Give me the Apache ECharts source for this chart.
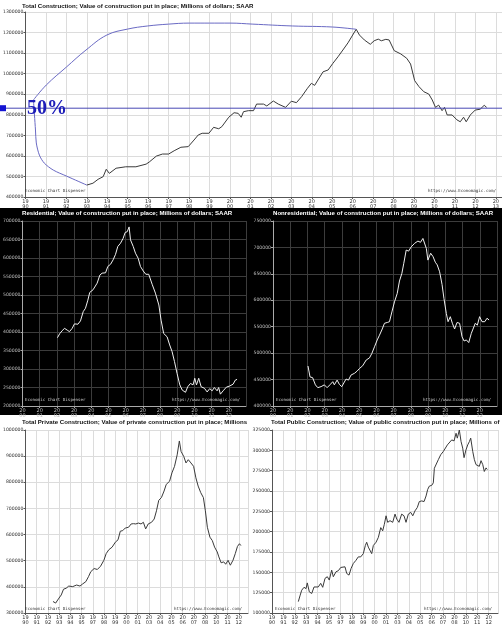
<!DOCTYPE html>
<html>
<head>
<meta charset="utf-8">
<script src="https://cdn.jsdelivr.net/npm/echarts@6/dist/echarts.min.js"></script>
<style>
html,body{margin:0;padding:0;background:#fff;}
#c{width:502px;height:625px;}
</style>
</head>
<body>
<div id="c"></div>
<script>
// ---------- DATA ----------
const titles = [
  "Total Construction; Value of construction put in place; Millions of dollars; SAAR",
  "Residential; Value of construction put in place; Millions of dollars; SAAR",
  "Nonresidential; Value of construction put in place; Millions of dollars; SAAR",
  "Total Private Construction; Value of private construction put in place; Millions",
  "Total Public Construction; Value of public construction put in place; Millions of"
];
const footerLeft = "Economic Chart Dispenser";
const footerRight = "https://www.Economagic.com/";
const overlayLabel = "50%";
const overlayLineValue = 832000;

const totalYears = [1993.0,1993.3,1993.55,1993.8,1993.95,1994.1,1994.43,1994.9,1995.4,1995.9,1996.05,1996.4,1996.7,1997.0,1997.27,1997.6,1997.96,1998.24,1998.45,1998.64,1998.97,1999.2,1999.45,1999.6,1999.94,2000.2,2000.4,2000.55,2000.66,2000.9,2001.15,2001.3,2001.64,2001.8,2002.12,2002.36,2002.72,2003.0,2003.25,2003.5,2003.79,2003.98,2004.14,2004.3,2004.55,2004.8,2005.03,2005.28,2005.52,2005.77,2006.0,2006.17,2006.33,2006.57,2006.86,2007.05,2007.25,2007.4,2007.62,2007.78,2008.03,2008.35,2008.64,2008.83,2009.03,2009.24,2009.48,2009.72,2009.89,2010.05,2010.2,2010.37,2010.49,2010.62,2010.86,2011.1,2011.26,2011.42,2011.55,2011.75,2011.99,2012.23,2012.43,2012.55];
const totalValues = [458000,467000,486000,499000,535000,515000,540000,547000,547000,560000,570000,599000,609000,609000,625000,642000,645000,677000,702000,710000,710000,739000,732000,742000,788000,810000,807000,788000,815000,820000,820000,852000,852000,843000,867000,852000,836000,866000,859000,888000,929000,953000,943000,969000,1009000,1018000,1050000,1082000,1115000,1150000,1188000,1216000,1188000,1164000,1143000,1160000,1168000,1160000,1167000,1164000,1112000,1096000,1075000,1047000,966000,937000,912000,901000,872000,836000,847000,820000,836000,799000,799000,775000,766000,788000,766000,799000,823000,827000,846000,836000];

const upperCurveYears = [1990.39,1991.02,1992.0,1992.96,1993.98,1995.0,1995.97,1996.99,1998.0,2000.0,2001.12,2003.06,2005.0,2006.17];
const upperCurveValues = [872000,945000,1032000,1115000,1188000,1217000,1232000,1241000,1246000,1246000,1241000,1232000,1227000,1216000];
const lowerCurveYears = [1990.39,1990.44,1990.49,1990.53,1990.68,1990.92,1991.36,1992.0,1993.0];
const lowerCurveValues = [872000,799000,726000,663000,604000,565000,531000,502000,458000];

const resYears = [2002.03,2002.17,2002.3,2002.44,2002.6,2002.73,2002.89,2003.02,2003.22,2003.37,2003.53,2003.66,2003.8,2003.91,2004.1,2004.34,2004.5,2004.63,2004.83,2004.96,2005.12,2005.27,2005.41,2005.54,2005.7,2005.85,2005.97,2006.09,2006.2,2006.28,2006.44,2006.57,2006.73,2006.86,2007.02,2007.17,2007.34,2007.54,2007.73,2007.93,2008.06,2008.21,2008.41,2008.56,2008.7,2008.84,2008.99,2009.15,2009.29,2009.48,2009.61,2009.77,2009.92,2010.02,2010.12,2010.25,2010.39,2010.58,2010.74,2010.89,2011.03,2011.16,2011.32,2011.41,2011.51,2011.67,2011.86,2012.05,2012.25,2012.38,2012.48];
const resValues = [384600,396000,403000,410000,405000,401000,410000,422000,421000,430000,455000,464000,486000,507000,514000,532000,554000,559000,560000,577000,583000,595000,610000,631000,640000,653000,669000,671000,684000,649000,631000,613000,599000,577000,565000,556000,556000,529000,505000,473000,432000,396000,387000,365000,347000,320000,288000,257000,243000,237000,252000,261000,257000,275000,257000,275000,252000,248000,238000,247000,241000,250000,241000,250000,232000,241000,251000,254000,259000,270000,272000];

const nonresYears = [2002.03,2002.15,2002.3,2002.46,2002.6,2002.79,2002.98,2003.14,2003.33,2003.47,2003.56,2003.72,2003.85,2003.99,2004.1,2004.24,2004.38,2004.53,2004.73,2004.88,2005.02,2005.2,2005.41,2005.6,2005.74,2005.89,2006.05,2006.18,2006.34,2006.47,2006.63,2006.76,2006.9,2007.05,2007.21,2007.34,2007.48,2007.59,2007.73,2007.87,2008.02,2008.22,2008.41,2008.56,2008.7,2008.8,2008.9,2008.99,2009.15,2009.29,2009.42,2009.53,2009.67,2009.81,2009.92,2010.06,2010.16,2010.29,2010.41,2010.54,2010.68,2010.83,2010.97,2011.09,2011.22,2011.36,2011.51,2011.61,2011.74,2011.86,2011.99,2012.13,2012.29,2012.42,2012.54];
const nonresValues = [475700,455000,453600,440000,434700,436600,440000,434700,441000,446000,440000,449000,441000,436600,433500,451000,449000,458600,461900,466000,471000,476000,487000,491000,499700,512000,525000,534000,545700,556500,558000,559500,578000,597000,613000,636500,651000,670000,695000,693000,701000,707800,712000,709700,717000,714000,698000,676000,689000,682500,672000,667000,654000,630000,603700,575000,559500,569000,556500,545700,558000,556500,531000,523000,525000,520000,537500,534000,556500,553000,569000,559500,559500,566000,562700];

const privYears = [1992.9,1993.18,1993.53,1993.77,1994.01,1994.28,1994.56,1994.98,1995.39,1995.74,1996.02,1996.36,1996.64,1996.88,1997.23,1997.57,1997.91,1998.26,1998.5,1998.78,1999.13,1999.47,1999.75,1999.99,2000.24,2000.51,2000.86,2001.13,2001.38,2001.62,2001.9,2002.17,2002.42,2002.66,2002.93,2003.28,2003.56,2003.8,2004.04,2004.32,2004.6,2004.83,2005.18,2005.43,2005.7,2005.98,2006.21,2006.39,2006.67,2006.91,2007.15,2007.43,2007.71,2007.95,2008.19,2008.46,2008.74,2008.95,2009.16,2009.43,2009.68,2009.92,2010.2,2010.37,2010.61,2010.88,2011.09,2011.34,2011.58,2011.86,2012.1,2012.33,2012.54,2012.69];
const privValues = [344000,338000,357000,369000,391000,394600,403000,401000,407000,403000,411000,420000,439000,458000,470000,466500,479000,501700,527000,542000,552000,571000,580000,613000,615000,625000,628000,640600,641700,640600,644000,640600,647000,621600,640600,647000,659500,691000,731000,741500,766600,792000,804000,836000,861000,905000,958000,918000,899000,874000,886500,874000,861000,817000,785500,760500,741500,691000,628000,590000,577000,552000,533500,514600,492000,495600,486500,501700,482800,501700,527000,554700,565000,558000];

const pubYears = [1992.73,1992.9,1993.08,1993.32,1993.53,1993.66,1993.87,1994.12,1994.36,1994.56,1994.8,1995.05,1995.26,1995.5,1995.74,1995.94,1996.19,1996.36,1996.64,1996.88,1997.13,1997.33,1997.57,1997.75,1997.99,1998.2,1998.43,1998.71,1998.95,1999.2,1999.47,1999.68,1999.82,1999.99,2000.17,2000.34,2000.51,2000.79,2001.03,2001.28,2001.48,2001.65,2001.83,2002.0,2002.24,2002.52,2002.76,2002.94,2003.17,2003.45,2003.69,2003.9,2004.14,2004.39,2004.6,2004.83,2005.07,2005.28,2005.53,2005.77,2005.98,2006.15,2006.32,2006.57,2006.73,2006.84,2007.01,2007.25,2007.5,2007.77,2007.95,2008.19,2008.39,2008.64,2008.88,2009.09,2009.22,2009.43,2009.61,2009.78,2009.92,2010.12,2010.3,2010.47,2010.61,2010.82,2010.99,2011.16,2011.34,2011.5,2011.68,2011.86,2012.02,2012.2,2012.33];
const pubValues = [114000,121000,128000,131600,130000,137000,126000,124000,132000,134000,132000,136500,131600,142600,144600,140500,152700,144600,150700,152000,156000,154700,156800,148600,146600,154700,160800,164800,169000,169000,173000,183000,187000,181000,179000,173000,183000,187000,193000,205000,201000,209000,219500,211500,213500,211500,221600,215500,211500,221600,219500,211500,221600,223700,219500,225600,229700,237000,237800,237000,243900,252000,256000,257000,260000,278000,278000,288500,294600,298600,296600,306700,304600,312800,311600,321000,315000,325000,310700,302700,291000,300600,306700,310700,315000,298600,288500,282400,284400,280300,287300,282400,274000,278400,276400];

// ---------- CHART ----------
const chart = echarts.init(document.getElementById('c'), null, {renderer:'canvas'});
const pairs = (xs, ys, off) => xs.map((x, i) => [x - (off || 0), ys[i]]);
const yearLabel = base => v => { const s = String(Math.floor(base + v + 1e-6)); return s.slice(0,2) + '\n' + s.slice(2); };

const LIGHT = {grid:'#dcdcdc', axis:'#555', label:'#333', line:'#3a3a3a'};
const DARK = {grid:'#3c3c3c', axis:'#aaa', label:'#bbb', line:'#f0f0f0'};

const grids = [
  {left:22, top:12, width:480, height:185},
  {left:22, top:221, width:224, height:185},
  {left:273, top:221, width:224, height:185},
  {left:22, top:430, width:226, height:185},
  {left:272, top:430, width:226, height:185}
];
const themes = [LIGHT, DARK, DARK, LIGHT, LIGHT];
const xCfg = [
  {min:1990, max:2013.3, interval:1, base:0},
  {min:2000, max:2013, interval:1, base:0},
  {min:2000, max:2013, interval:1, base:0},
  {min:0, max:23.44, interval:1.1826, base:1990},
  {min:0, max:23.44, interval:1.1826, base:1990}
];
const yCfg = [
  {min:400000, max:1300000, interval:100000},
  {min:200000, max:700000, interval:50000},
  {min:400000, max:750000, interval:50000},
  {min:300000, max:1000000, interval:100000},
  {min:100000, max:325000, interval:25000}
];

const xAxis = xCfg.map((c, i) => ({
  type:'value', gridIndex:i, min:c.min, max:c.max, interval:c.interval,
  axisLine:{show:true, onZero:false, lineStyle:{color:themes[i].axis, width:1}},
  axisTick:{show:true, length:2, lineStyle:{color:themes[i].axis}},
  splitLine:{show:true, lineStyle:{color:themes[i].grid, width:1}},
  axisLabel:{formatter:yearLabel(c.base), fontSize:5, lineHeight:5, margin:2, color:themes[i].label,
             fontFamily:'DejaVu Sans', showMaxLabel:false, hideOverlap:false}
}));
const yAxis = yCfg.map((c, i) => ({
  type:'value', gridIndex:i, min:c.min, max:c.max, interval:c.interval,
  axisLine:{show:true, lineStyle:{color:themes[i].axis, width:1}},
  axisTick:{show:true, length:2, lineStyle:{color:themes[i].axis}},
  splitLine:{show:true, lineStyle:{color:themes[i].grid, width:1}},
  axisLabel:{formatter:v => String(v), fontSize:4.6, margin:2, color:themes[i].label, fontFamily:'DejaVu Sans'}
}));

const lineSeries = (data, i, color) => ({
  type:'line', xAxisIndex:i, yAxisIndex:i, data:data, showSymbol:false, symbol:'none',
  lineStyle:{color:color, width:1}, animation:false, z:5
});

const series = [
  lineSeries(pairs(totalYears, totalValues), 0, LIGHT.line),
  Object.assign(lineSeries(pairs(upperCurveYears, upperCurveValues), 0, '#6a6ac4'), {smooth:0.4}),
  Object.assign(lineSeries(pairs(lowerCurveYears, lowerCurveValues), 0, '#6a6ac4'), {smooth:0.3}),
  lineSeries(pairs(resYears, resValues), 1, DARK.line),
  lineSeries(pairs(nonresYears, nonresValues), 2, DARK.line),
  lineSeries(pairs(privYears, privValues, 1990), 3, LIGHT.line),
  lineSeries(pairs(pubYears, pubValues, 1990), 4, LIGHT.line)
];

const titleFont = {fontFamily:'Liberation Sans, Arial, sans-serif', fontWeight:'bold', fontSize:6.1};
const titleOpts = [
  {text:titles[0], left:22, top:3, textStyle:Object.assign({color:'#111'}, titleFont)},
  {text:titles[1], left:22, top:210, textStyle:Object.assign({color:'#fff'}, titleFont)},
  {text:titles[2], left:273, top:210, textStyle:Object.assign({color:'#fff'}, titleFont)},
  {text:titles[3], left:22, top:419, textStyle:Object.assign({color:'#111'}, titleFont)},
  {text:titles[4], left:271, top:419, textStyle:Object.assign({color:'#111'}, titleFont)}
].map(t => Object.assign({padding:0, itemGap:0}, t));

const footFont = {fontFamily:'DejaVu Sans Mono', fontSize:4.2};
const footers = [];
grids.forEach((g, i) => {
  const col = themes[i] === DARK ? '#ccc' : '#333';
  const yb = g.top + g.height - 3;
  footers.push({type:'text', id:'fl'+i, left:g.left + 3, top:yb - 5, z:10,
    style:Object.assign({text:footerLeft, fill:col}, footFont)});
  footers.push({type:'text', id:'fr'+i, right:502 - (g.left + g.width) + 6, top:yb - 5, z:10,
    style:Object.assign({text:footerRight, fill:col}, footFont)});
});

chart.setOption({
  animation:false,
  backgroundColor:'#ffffff',
  title:titleOpts,
  grid:grids,
  xAxis:xAxis,
  yAxis:yAxis,
  series:series,
  graphic:[{type:'rect', id:'darkbg', z:-100, shape:{x:0, y:208, width:502, height:207}, style:{fill:'#000'}}].concat(footers)
});

// overlay: horizontal reference line, marker and label placed through the y scale
const yPix = chart.convertToPixel({gridIndex:0}, [1990, overlayLineValue])[1];
chart.setOption({
  graphic:[
    {type:'line', id:'ovline', z:20, shape:{x1:0, y1:yPix, x2:502, y2:yPix}, style:{stroke:'#4848b4', lineWidth:1}},
    {type:'rect', id:'ovsq', z:21, shape:{x:0, y:yPix - 3, width:6, height:6}, style:{fill:'#1414d2'}},
    {type:'text', id:'ovtxt', z:21, left:27, top:yPix - 9, style:{text:overlayLabel, fill:'#1c1cb8',
      font:'bold 20px "Liberation Serif", "DejaVu Serif", serif'}}
  ]
});
</script>
</body>
</html>
